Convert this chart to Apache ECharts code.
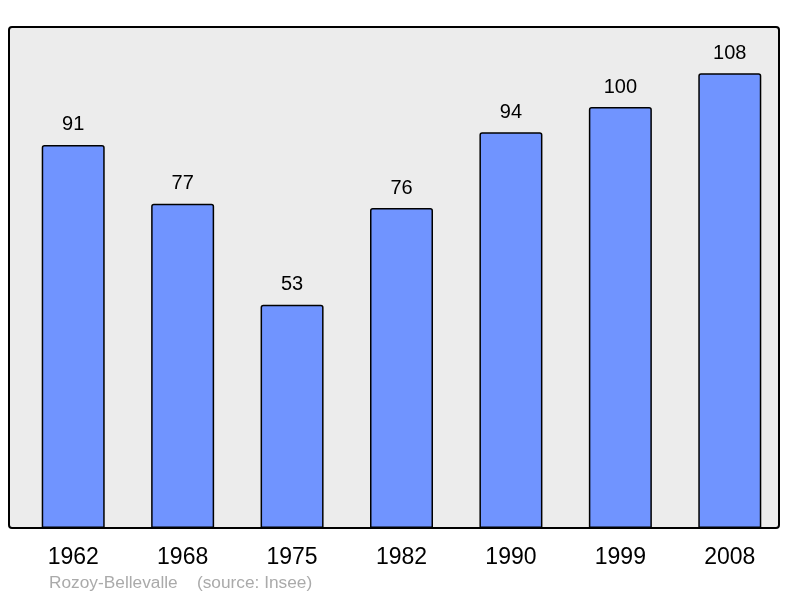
<!DOCTYPE html>
<html><head><meta charset="utf-8">
<script src="https://cdn.jsdelivr.net/npm/echarts@6/dist/echarts.min.js"></script>
<style>html,body{margin:0;padding:0;background:#fff}#c{width:800px;height:598px}</style>
</head><body><div id="c"></div>
<script>
const years = ['1962','1968','1975','1982','1990','1999','2008'];
const population = [91, 77, 53, 76, 94, 100, 108];
const footer = 'Rozoy-Bellevalle    (source: Insee)';

const FONT = 'Liberation Sans, Arial, sans-serif';
const chart = echarts.init(document.getElementById('c'), null, {renderer:'canvas'});
chart.setOption({
  animation:false,
  backgroundColor:'#ffffff',
  grid:{left:18.5, top:27, width:766, height:501, show:false},
  xAxis:{type:'category', data:years,
    axisLine:{show:false}, axisTick:{show:false},
    axisLabel:{color:'#000', fontSize:23, fontFamily:FONT, margin:18}},
  yAxis:{type:'value', min:0, max:119, show:false, splitLine:{show:false}},
  series:[{type:'bar', data:population, barWidth:63, z:3,
    itemStyle:{color:'#7094ff', borderColor:'#000', borderWidth:1.5, borderRadius:[2,2,0,0]},
    label:{show:true, position:'top', distance:10, color:'#000', fontSize:20, fontFamily:FONT}}],
  graphic:[
    {type:'rect', z:-10, silent:true, shape:{x:9, y:27, width:770, height:501, r:3},
      style:{fill:'#ececec', stroke:'#000', lineWidth:2}},
    {type:'text', left:49, top:575, style:{text:footer, fill:'#aaaaaa', fontSize:17.3, fontFamily:FONT}}
  ]
});
</script></body></html>
